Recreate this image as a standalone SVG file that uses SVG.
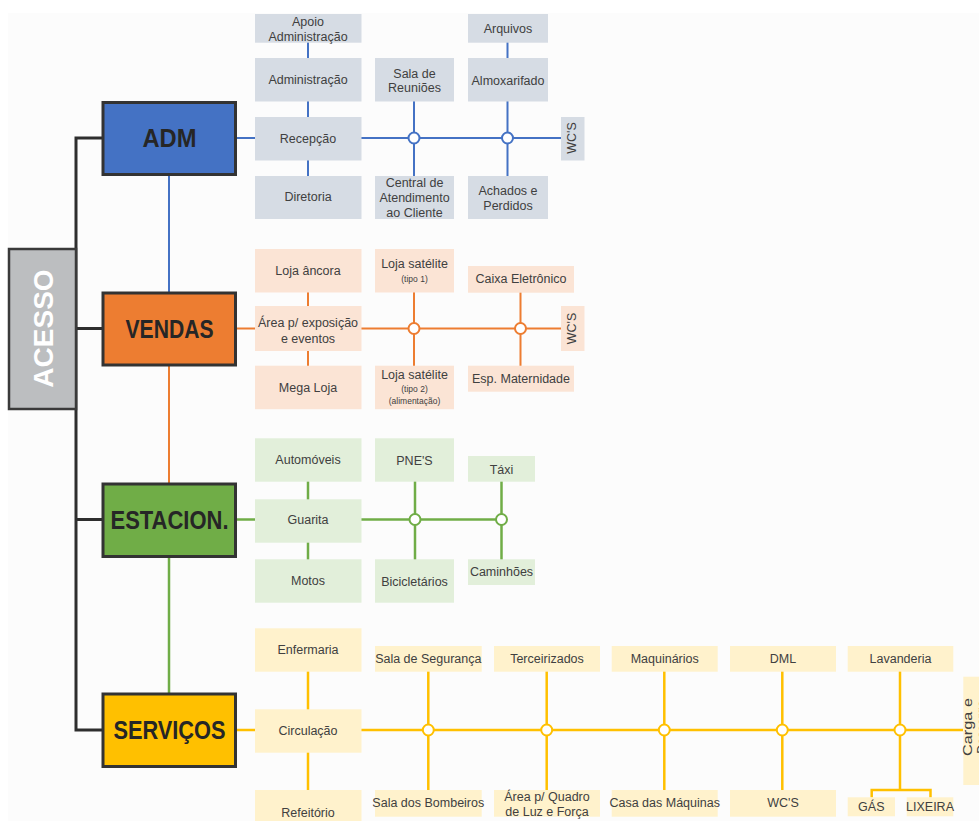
<svg xmlns="http://www.w3.org/2000/svg" width="979" height="821" viewBox="0 0 979 821">
<style>
.t{font-family:"Liberation Sans",Arial,sans-serif;font-size:12.5px;fill:#404040;text-anchor:middle}
.s{font-size:8.5px}
.big{font-family:"Liberation Sans",Arial,sans-serif;font-weight:bold;font-size:25px;fill:#262626;text-anchor:middle}
.main{stroke:#333;stroke-width:3}
.bg{fill:#d6dce4}.og{fill:#fbe4d5}.gg{fill:#e2efda}.yg{fill:#fff2cc}
.lb{stroke:#4472c4;stroke-width:2;fill:none}
.lo{stroke:#ed7d31;stroke-width:2;fill:none}
.lg{stroke:#70ad47;stroke-width:2.5;fill:none}
.ly{stroke:#ffc000;stroke-width:2.5;fill:none}
.jb{fill:#fff;stroke:#4472c4;stroke-width:2}
.jo{fill:#fff;stroke:#ed7d31;stroke-width:2}
.jg{fill:#fff;stroke:#70ad47;stroke-width:2}
.jy{fill:#fff;stroke:#ffc000;stroke-width:2}
</style>
<rect x="0" y="0" width="979" height="821" fill="#ffffff"/>
<rect x="8" y="13" width="971" height="808" fill="#fcfcfc"/>
<g id="connectors">
  <path d="M102,138 H76 V730 H102 M76,328.5 H102 M76,519.5 H102" stroke="#2e2e2e" stroke-width="3" fill="none"/>
  <path class="lb" d="M169,175 V292 M236,138 H255 M308,42 V176 M361,138 H561 M414,101 V176 M507.5,42 V176"/>
  <circle class="jb" cx="414" cy="138" r="5.5"/>
  <circle class="jb" cx="507.5" cy="138" r="5.5"/>
  <path class="lo" d="M169,366 V483 M236,328.5 H255 M308,292 V366 M361,328.5 H561 M414,292 V366 M520.5,292 V366"/>
  <circle class="jo" cx="414" cy="328.5" r="5.5"/>
  <circle class="jo" cx="520.5" cy="328.5" r="5.5"/>
  <path class="lg" d="M169,558 V693 M236,519.5 H255 M308,481 V560 M361,519.5 H501.5 M415,481 V560 M501.5,481 V560"/>
  <circle class="jg" cx="415" cy="519.5" r="5.5"/>
  <circle class="jg" cx="501.5" cy="519.5" r="5.5"/>
  <path class="ly" d="M236,730 H255 M308,671 V790 M361,730 H963 M428.3,671 V790 M546.7,671 V790 M664.3,671 V790 M782.3,671 V790 M900,671 V790 M871.7,797.5 V790 H930.5 V797.5"/>
  <circle class="jy" cx="428.3" cy="730" r="5.5"/>
  <circle class="jy" cx="546.7" cy="730" r="5.5"/>
  <circle class="jy" cx="664.3" cy="730" r="5.5"/>
  <circle class="jy" cx="782.3" cy="730" r="5.5"/>
  <circle class="jy" cx="900" cy="730" r="5.5"/>
</g>
<g id="acesso">
  <rect x="9" y="249" width="67" height="160" fill="#bcbec0" stroke="#3a3a3a" stroke-width="2.5"/>
  <text transform="translate(53,328.5) rotate(-90)" font-family="'Liberation Sans',Arial,sans-serif" font-weight="bold" font-size="28" fill="#ffffff" text-anchor="middle">ACESSO</text>
</g>
<g id="adm">
  <rect class="main" x="103" y="102.5" width="132.5" height="72" fill="#4472c4"/>
  <text class="big" x="169.5" y="147" textLength="54" lengthAdjust="spacingAndGlyphs">ADM</text>
</g>
<g id="vendas">
  <rect class="main" x="103" y="293" width="132.5" height="72" fill="#ed7d31"/>
  <text class="big" x="169.5" y="338" textLength="88" lengthAdjust="spacingAndGlyphs">VENDAS</text>
</g>
<g id="estacion">
  <rect class="main" x="103" y="484" width="132.5" height="72.5" fill="#70ad47"/>
  <text class="big" x="169.5" y="529" textLength="118" lengthAdjust="spacingAndGlyphs">ESTACION.</text>
</g>
<g id="servicos">
  <rect class="main" x="103" y="694" width="132.5" height="72.5" fill="#ffc000"/>
  <text class="big" x="169.5" y="739" textLength="112" lengthAdjust="spacingAndGlyphs">SERVIÇOS</text>
</g>
<g id="apoio-adm"><rect class="bg" x="255" y="14" width="106.5" height="28.7"/><text class="t" x="308" y="25.5">Apoio</text><text class="t" x="308" y="40.5">Administração</text></g>
<g id="administracao"><rect class="bg" x="255" y="58" width="106.5" height="43.5"/><text class="t" x="308" y="84">Administração</text></g>
<g id="recepcao"><rect class="bg" x="255" y="117" width="106.5" height="43.5"/><text class="t" x="308" y="142.5">Recepção</text></g>
<g id="diretoria"><rect class="bg" x="255" y="176" width="106.5" height="43"/><text class="t" x="308" y="201">Diretoria</text></g>
<g id="sala-reunioes"><rect class="bg" x="375" y="58" width="79" height="43.5"/><text class="t" x="414.5" y="77.5">Sala de</text><text class="t" x="414.5" y="92">Reuniões</text></g>
<g id="central-atendimento"><rect class="bg" x="375" y="176" width="79" height="43"/><text class="t" x="414.5" y="187">Central de</text><text class="t" x="414.5" y="202">Atendimento</text><text class="t" x="414.5" y="217">ao Cliente</text></g>
<g id="arquivos"><rect class="bg" x="468" y="14" width="80" height="28.7"/><text class="t" x="508" y="33">Arquivos</text></g>
<g id="almoxarifado"><rect class="bg" x="468" y="58" width="80" height="43.5"/><text class="t" x="508" y="85">Almoxarifado</text></g>
<g id="achados-perdidos"><rect class="bg" x="468" y="176" width="80" height="43"/><text class="t" x="508" y="195">Achados e</text><text class="t" x="508" y="209.5">Perdidos</text></g>
<g id="wcs-adm"><rect class="bg" x="561" y="117" width="23.5" height="43.5"/><text class="t" transform="translate(576,138) rotate(-90)">WC'S</text></g>
<g id="loja-ancora"><rect class="og" x="255" y="249" width="106.5" height="43.5"/><text class="t" x="308" y="274.5">Loja âncora</text></g>
<g id="area-exposicao"><rect class="og" x="255" y="306" width="106.5" height="45"/><text class="t" x="308" y="327">Área p/ exposição</text><text class="t" x="308" y="343">e eventos</text></g>
<g id="mega-loja"><rect class="og" x="255" y="365.7" width="106.5" height="43.5"/><text class="t" x="308" y="392">Mega Loja</text></g>
<g id="loja-satelite-1"><rect class="og" x="375" y="249" width="79" height="43.5"/><text class="t" x="414.5" y="268">Loja satélite</text><text class="t s" x="414.5" y="281.5">(tipo 1)</text></g>
<g id="loja-satelite-2"><rect class="og" x="375" y="365.7" width="79" height="43.5"/><text class="t" x="414.5" y="379">Loja satélite</text><text class="t s" x="414.5" y="392">(tipo 2)</text><text class="t s" x="414.5" y="403.5">(alimentação)</text></g>
<g id="caixa-eletronico"><rect class="og" x="468" y="266" width="106" height="26.7"/><text class="t" x="521" y="283">Caixa Eletrônico</text></g>
<g id="esp-maternidade"><rect class="og" x="468" y="365.7" width="106" height="26"/><text class="t" x="521" y="383">Esp. Maternidade</text></g>
<g id="wcs-vendas"><rect class="og" x="561" y="306" width="23.5" height="45"/><text class="t" transform="translate(576,328.5) rotate(-90)">WC'S</text></g>
<g id="automoveis"><rect class="gg" x="255" y="438.3" width="106.5" height="43.4"/><text class="t" x="308" y="464">Automóveis</text></g>
<g id="guarita"><rect class="gg" x="255" y="499.3" width="106.5" height="43.4"/><text class="t" x="308" y="524">Guarita</text></g>
<g id="motos"><rect class="gg" x="255" y="559.3" width="106.5" height="43.4"/><text class="t" x="308" y="585">Motos</text></g>
<g id="pnes"><rect class="gg" x="375" y="438.3" width="79" height="43.4"/><text class="t" x="414.5" y="464.5">PNE'S</text></g>
<g id="bicicletarios"><rect class="gg" x="375" y="559.3" width="79" height="43.4"/><text class="t" x="414.5" y="586">Bicicletários</text></g>
<g id="taxi"><rect class="gg" x="468" y="456" width="67" height="25.7"/><text class="t" x="501.5" y="474">Táxi</text></g>
<g id="caminhoes"><rect class="gg" x="468" y="559.3" width="67" height="25.7"/><text class="t" x="501.5" y="575.5">Caminhões</text></g>
<g id="enfermaria"><rect class="yg" x="255" y="628.3" width="106.5" height="43.4"/><text class="t" x="308" y="654">Enfermaria</text></g>
<g id="circulacao"><rect class="yg" x="255" y="709.3" width="106.5" height="43.4"/><text class="t" x="308" y="734.5">Circulação</text></g>
<g id="refeitorio"><rect class="yg" x="255" y="790" width="106.5" height="43.4"/><text class="t" x="308" y="817">Refeitório</text></g>
<g id="sala-seguranca"><rect class="yg" x="375" y="646" width="106.7" height="25.7"/><text class="t" x="428.3" y="663">Sala de Segurança</text></g>
<g id="sala-bombeiros"><rect class="yg" x="375" y="790" width="106.7" height="26.7"/><text class="t" x="428.3" y="807">Sala dos Bombeiros</text></g>
<g id="terceirizados"><rect class="yg" x="494" y="646" width="106" height="25.7"/><text class="t" x="547" y="663">Terceirizados</text></g>
<g id="quadro-luz"><rect class="yg" x="494" y="790" width="106" height="26.7"/><text class="t" x="547" y="800.5">Área p/ Quadro</text><text class="t" x="547" y="816">de Luz e Força</text></g>
<g id="maquinarios"><rect class="yg" x="611.7" y="646" width="106" height="25.7"/><text class="t" x="664.7" y="663">Maquinários</text></g>
<g id="casa-maquinas"><rect class="yg" x="611.7" y="790" width="106" height="26.7"/><text class="t" x="664.7" y="807">Casa das Máquinas</text></g>
<g id="dml"><rect class="yg" x="730" y="646" width="106" height="25.7"/><text class="t" x="783" y="663">DML</text></g>
<g id="wcs-servicos"><rect class="yg" x="730" y="790" width="106" height="26.7"/><text class="t" x="783" y="807">WC'S</text></g>
<g id="lavanderia"><rect class="yg" x="847.7" y="646" width="105.6" height="25.7"/><text class="t" x="900.5" y="663">Lavanderia</text></g>
<g id="gas"><rect class="yg" x="847.7" y="797.3" width="47.3" height="19"/><text class="t" x="871.3" y="811">GÁS</text></g>
<g id="lixeira"><rect class="yg" x="906.7" y="797.3" width="46.6" height="19"/><text class="t" x="930" y="811">LIXEIRA</text></g>
<g id="carga-descarga"><rect class="yg" x="963.3" y="676.7" width="30" height="108.3"/><text class="t" font-size="14" transform="translate(972,727) rotate(-90)"><tspan x="0" dy="0" textLength="58" lengthAdjust="spacingAndGlyphs">Carga e</tspan><tspan x="0" dy="14">Descarga</tspan></text></g>
</svg>
